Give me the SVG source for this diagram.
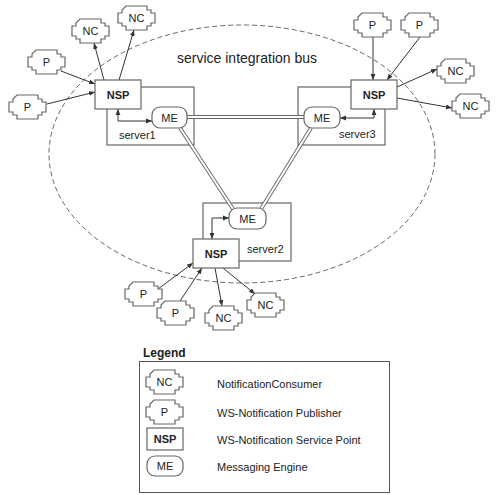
<svg xmlns="http://www.w3.org/2000/svg" xmlns:xlink="http://www.w3.org/1999/xlink" width="500" height="495" viewBox="0 0 500 495">
<style>
text{font-family:"Liberation Sans",Arial,sans-serif;fill:#222;}
.lbl{font-size:11px;text-anchor:middle;}
.b{font-weight:bold;}
.shape{fill:#fff;stroke:#666;stroke-width:1.2;}
.srv{fill:none;stroke:#666;stroke-width:1.2;}
.con{fill:none;stroke:#333;stroke-width:1;}
.dbo{fill:none;stroke:#666;stroke-width:3.8;}
.dbi{fill:none;stroke:#fff;stroke-width:2;}
.bus{fill:none;stroke:#555;stroke-width:0.9;stroke-dasharray:5,3;}
</style>
<defs>
<path id="cross" d="M8,0 H29 V4 H33 V7 H37 V17 H33 V20 H29 V24 H8 V20 H4 V17 H0 V7 H4 V4 Z"/>
<marker id="arr" viewBox="0 0 10 10" refX="10" refY="5" markerWidth="6" markerHeight="6" markerUnits="userSpaceOnUse" orient="auto-start-reverse">
<path d="M0,1 L10,5 L0,9 Z" fill="#333"/>
</marker>
</defs>

<ellipse id="bus" class="bus" cx="242" cy="154" rx="193" ry="129"/>
<text x="177" y="63" font-size="14">service integration bus</text>

<g id="server1"><rect class="srv" x="107" y="87" width="87" height="58"/><text x="119" y="139" font-size="11">server1</text></g>
<g id="server3"><rect class="srv" x="298" y="87" width="87" height="58"/><text x="339" y="138" font-size="11">server3</text></g>
<g id="server2"><rect class="srv" x="203" y="203" width="88" height="58"/><text x="247" y="253" font-size="11">server2</text></g>

<g id="connectors">
<path class="dbo" d="M187,117 H304 M180,128 L233,209 M311,128 L261,209"/>
<path class="dbi" d="M187,117 H304 M180,128 L233,209 M311,128 L261,209"/>
<line class="con" x1="61" y1="71" x2="95" y2="84" marker-end="url(#arr)"/>
<line class="con" x1="47" y1="104" x2="95" y2="92" marker-end="url(#arr)"/>
<line class="con" x1="104" y1="80" x2="94" y2="43" marker-end="url(#arr)"/>
<line class="con" x1="119" y1="80" x2="134" y2="30" marker-end="url(#arr)"/>
<path class="con" d="M118,109 V121 H152" marker-start="url(#arr)" marker-end="url(#arr)"/>
<line class="con" x1="373" y1="37" x2="373" y2="80" marker-end="url(#arr)"/>
<line class="con" x1="420" y1="37" x2="387" y2="80" marker-end="url(#arr)"/>
<line class="con" x1="397" y1="87" x2="437" y2="69" marker-end="url(#arr)"/>
<line class="con" x1="397" y1="98" x2="452" y2="108" marker-end="url(#arr)"/>
<path class="con" d="M374,109 V118 H340" marker-start="url(#arr)" marker-end="url(#arr)"/>
<line class="con" x1="158" y1="289" x2="193" y2="263" marker-end="url(#arr)"/>
<line class="con" x1="180" y1="301" x2="202" y2="268" marker-end="url(#arr)"/>
<line class="con" x1="215" y1="268" x2="222" y2="306" marker-end="url(#arr)"/>
<line class="con" x1="223" y1="268" x2="255" y2="294" marker-end="url(#arr)"/>
<path class="con" d="M212,239 V218 H229" marker-start="url(#arr)" marker-end="url(#arr)"/>
</g>

<g id="nsp1"><rect class="shape" x="95" y="80" width="46" height="29"/><text class="lbl b" x="118" y="99">NSP</text></g>
<g id="nsp3"><rect class="shape" x="351" y="80" width="46" height="29"/><text class="lbl b" x="374" y="99">NSP</text></g>
<g id="nsp2"><rect class="shape" x="193" y="239" width="46" height="29"/><text class="lbl b" x="216" y="258">NSP</text></g>

<g id="me1"><rect class="shape" x="152" y="107" width="35" height="21" rx="8"/><text class="lbl" x="169.5" y="122">ME</text></g>
<g id="me3"><rect class="shape" x="304" y="107" width="36" height="21" rx="8"/><text class="lbl" x="322" y="122">ME</text></g>
<g id="me2"><rect class="shape" x="229" y="208" width="37" height="21" rx="8"/><text class="lbl" x="247.5" y="223">ME</text></g>

<g id="nc1"><use href="#cross" xlink:href="#cross" class="shape" x="72" y="19"/><text class="lbl" x="90.5" y="35">NC</text></g>
<g id="nc2"><use href="#cross" xlink:href="#cross" class="shape" x="118" y="6"/><text class="lbl" x="136.5" y="22">NC</text></g>
<g id="p1"><use href="#cross" xlink:href="#cross" class="shape" x="28" y="50"/><text class="lbl" x="46.5" y="66">P</text></g>
<g id="p2"><use href="#cross" xlink:href="#cross" class="shape" x="9" y="95"/><text class="lbl" x="27.5" y="111">P</text></g>
<g id="p3"><use href="#cross" xlink:href="#cross" class="shape" x="354" y="13"/><text class="lbl" x="372.5" y="29">P</text></g>
<g id="p4"><use href="#cross" xlink:href="#cross" class="shape" x="401" y="13"/><text class="lbl" x="419.5" y="29">P</text></g>
<g id="nc3"><use href="#cross" xlink:href="#cross" class="shape" x="437" y="59"/><text class="lbl" x="455.5" y="75">NC</text></g>
<g id="nc4"><use href="#cross" xlink:href="#cross" class="shape" x="452" y="94"/><text class="lbl" x="470.5" y="110">NC</text></g>
<g id="p5"><use href="#cross" xlink:href="#cross" class="shape" x="125" y="282"/><text class="lbl" x="143.5" y="298">P</text></g>
<g id="p6"><use href="#cross" xlink:href="#cross" class="shape" x="157" y="301"/><text class="lbl" x="175.5" y="317">P</text></g>
<g id="nc5"><use href="#cross" xlink:href="#cross" class="shape" x="205" y="306"/><text class="lbl" x="223.5" y="322">NC</text></g>
<g id="nc6"><use href="#cross" xlink:href="#cross" class="shape" x="247" y="293"/><text class="lbl" x="265.5" y="309">NC</text></g>

<g id="legend">
<text x="143" y="357" font-size="12" class="b">Legend</text>
<rect x="139.5" y="361.5" width="250" height="131" fill="none" stroke="#555" stroke-width="1"/>
<use href="#cross" xlink:href="#cross" class="shape" x="146" y="370"/><text class="lbl" x="164.5" y="386">NC</text>
<text x="217" y="388" font-size="11">NotificationConsumer</text>
<use href="#cross" xlink:href="#cross" class="shape" x="146" y="400"/><text class="lbl" x="164.5" y="416">P</text>
<text x="217" y="417" font-size="11">WS-Notification Publisher</text>
<rect class="shape" x="147" y="428" width="36" height="22"/><text class="lbl b" x="165" y="443">NSP</text>
<text x="217" y="444" font-size="11">WS-Notification Service Point</text>
<rect class="shape" x="147" y="456" width="36" height="20" rx="8"/><text class="lbl" x="165" y="470">ME</text>
<text x="217" y="471" font-size="11">Messaging Engine</text>
</g>
</svg>
